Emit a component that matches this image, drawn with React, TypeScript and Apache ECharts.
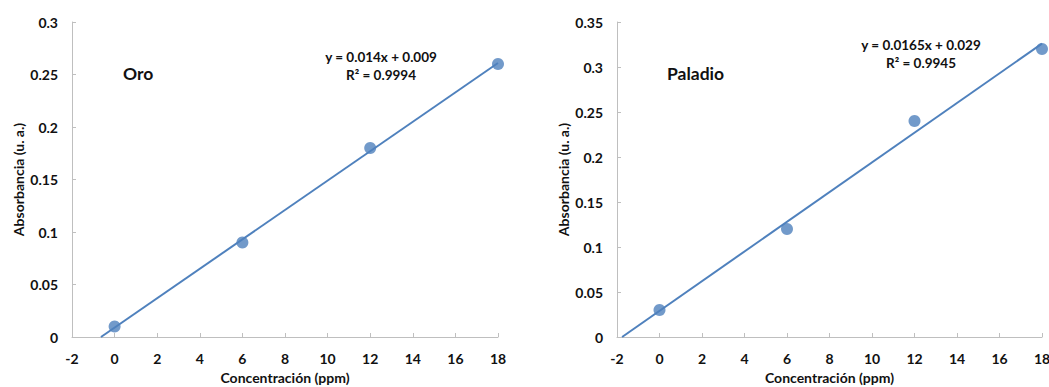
import React, { useEffect, useRef } from "react";
import * as echarts from "echarts";

const xTicks = [-2, 0, 2, 4, 6, 8, 10, 12, 14, 16, 18];
const concentrations = [0, 6, 12, 18];
const oroAbs = [0.01, 0.09, 0.18, 0.26];
const paladioAbs = [0.03, 0.12, 0.24, 0.32];
// trendline endpoints (x where line meets 0, and x = 18)
const oroTrendX = [-0.64, 18];
const oroTrendY = [0, 0.261];
const paladioTrendX = [-1.76, 18];
const paladioTrendY = [0, 0.326];
const oroLabel = "Oro";
const paladioLabel = "Paladio";
const oroEq = ["y = 0.014x + 0.009", "R² = 0.9994"];
const paladioEq = ["y = 0.0165x + 0.029", "R² = 0.9945"];

const FONT = "Lato";
const TXT = "#111111";
const AXIS = "#bfbfbf";
const BLUE = "#4f81bd";

export default function App() {
  const ref = useRef<HTMLDivElement>(null);
  useEffect(() => {
    if (!ref.current) return;
    const chart = echarts.init(ref.current, undefined, { renderer: "svg" });
    const mkX = (gi: number) => ({
      type: "value",
      gridIndex: gi,
      min: xTicks[0],
      max: xTicks[xTicks.length - 1],
      interval: 2,
      name: "Concentración (ppm)",
      nameLocation: "middle",
      nameGap: 33,
      nameTextStyle: { fontFamily: FONT, fontWeight: "bold", fontSize: 14, color: TXT, lineHeight: 15 },
      axisLine: { show: true, onZero: false, lineStyle: { color: AXIS, width: 1 } },
      axisTick: { show: true, inside: true, length: 4, lineStyle: { color: AXIS } },
      axisLabel: { fontFamily: FONT, fontWeight: "bold", fontSize: 14, color: TXT, margin: 14 },
      splitLine: { show: false },
    });
    const mkY = (gi: number, max: number) => ({
      type: "value",
      gridIndex: gi,
      min: 0,
      max,
      interval: 0.05,
      name: "Absorbancia (u. a.)",
      nameLocation: "middle",
      nameGap: 47,
      nameTextStyle: { fontFamily: FONT, fontWeight: "bold", fontSize: 14, color: TXT },
      axisLine: { show: true, onZero: false, lineStyle: { color: AXIS, width: 1 } },
      axisTick: { show: true, inside: true, length: 4, lineStyle: { color: AXIS } },
      axisLabel: { fontFamily: FONT, fontWeight: "bold", fontSize: 14, color: TXT, margin: 14 },
      splitLine: { show: false },
    });
    const zip = (a: number[], b: number[]) => a.map((v, i) => [v, b[i]]);
    const txt = (x: number, y: number, text: string, size: number, align = "left") => ({
      type: "text",
      x,
      y,
      style: {
        text,
        fontFamily: FONT,
        fontWeight: "bold",
        fontSize: size,
        fill: TXT,
        textAlign: align,
        textVerticalAlign: "middle",
      },
    });
    chart.setOption({
      animation: false,
      backgroundColor: "#ffffff",
      grid: [
        { left: 72, top: 22, width: 426, height: 315, containLabel: false, outerBoundsMode: "none" },
        { left: 617, top: 22, width: 425, height: 315, containLabel: false, outerBoundsMode: "none" },
      ],
      xAxis: [mkX(0), mkX(1)],
      yAxis: [mkY(0, 0.3), mkY(1, 0.35)],
      series: [
        {
          type: "line",
          xAxisIndex: 0,
          yAxisIndex: 0,
          data: zip(oroTrendX, oroTrendY),
          showSymbol: false,
          lineStyle: { color: BLUE, width: 2 },
          z: 2,
        },
        {
          type: "scatter",
          xAxisIndex: 0,
          yAxisIndex: 0,
          data: zip(concentrations, oroAbs),
          symbolSize: 12,
          itemStyle: { color: BLUE },
          z: 3,
        },
        {
          type: "line",
          xAxisIndex: 1,
          yAxisIndex: 1,
          data: zip(paladioTrendX, paladioTrendY),
          showSymbol: false,
          lineStyle: { color: BLUE, width: 2 },
          z: 2,
        },
        {
          type: "scatter",
          xAxisIndex: 1,
          yAxisIndex: 1,
          data: zip(concentrations, paladioAbs),
          symbolSize: 12,
          itemStyle: { color: BLUE },
          z: 3,
        },
      ],
      graphic: [
        txt(123, 73, oroLabel, 17.5),
        txt(381, 57, oroEq[0], 13.5, "center"),
        txt(381, 75, oroEq[1], 13.5, "center"),
        txt(667, 73, paladioLabel, 17.5),
        txt(921, 45, paladioEq[0], 13.5, "center"),
        txt(921, 63, paladioEq[1], 13.5, "center"),
      ],
    });
    return () => chart.dispose();
  }, []);
  return (
    <div
      ref={ref}
      style={{ position: "absolute", left: 0, top: 0, width: 1049, height: 387, background: "#fff" }}
    />
  );
}
